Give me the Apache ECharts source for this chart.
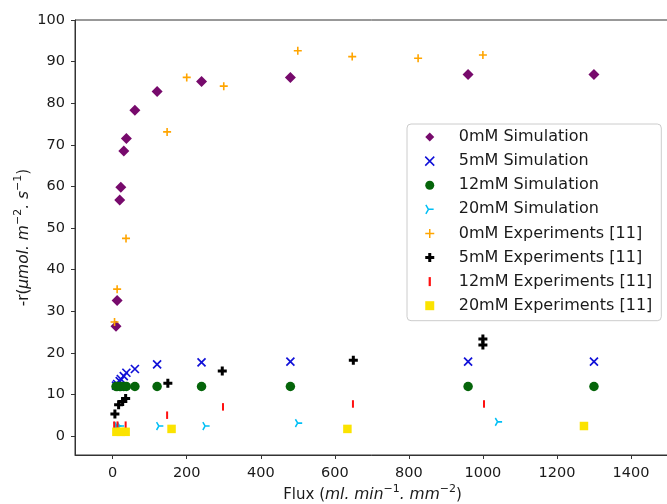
<!DOCTYPE html>
<html><head><meta charset="utf-8">
<script src="https://cdn.jsdelivr.net/npm/echarts@6/dist/echarts.min.js"></script>
<style>html,body{margin:0;padding:0;background:#fff}#c{width:667px;height:504px}</style>
</head><body><div id="c"></div>
<script>
// ---- tick labels ----
const xTicks = [0, 200, 400, 600, 800, 1000, 1200, 1400];
const yTicks = [0, 10, 20, 30, 40, 50, 60, 70, 80, 90, 100];

// ---- simulations ----
const simFlux = [9, 12, 19, 22, 30, 37, 60, 120, 240, 480, 960, 1300];
const sim0mM  = [26.4, 32.6, 56.7, 59.8, 68.5, 71.5, 78.3, 82.8, 85.2, 86.2, 86.9, 86.9];
const sim5mM  = [12.1, 12.5, 13.2, 13.7, 14.4, 15.2, 16.1, 17.2, 17.7, 17.9, 17.9, 17.9];
const sim12mM = [11.9, 11.9, 11.9, 11.9, 11.9, 11.9, 11.9, 11.9, 11.9, 11.9, 11.9, 11.9];
const sim20Flux = [9, 12, 19, 125, 250, 500, 1040];
const sim20mM   = [2.4, 2.4, 2.4, 2.4, 2.4, 3.1, 3.4];

// ---- experiments [11] ----
const exp0Flux = [5, 12, 36, 147, 200, 300, 500, 647, 825, 1000];
const exp0mM   = [27.4, 35.3, 47.5, 73.1, 86.2, 84.1, 92.6, 91.2, 90.8, 91.6];
const exp5Flux = [6, 16, 27, 35, 149, 296, 650, 1000, 1000];
const exp5mM   = [5.3, 7.5, 8.3, 9.0, 12.7, 15.6, 18.2, 21.9, 23.3];
const exp12Flux = [4, 13, 35, 147, 298, 649, 1003];
const exp12mM   = [2.6, 2.6, 2.6, 5.0, 7.0, 7.7, 7.7];
const exp20Flux = [10, 22, 35, 159, 634, 1273];
const exp20mM   = [1.0, 1.0, 1.0, 1.7, 1.7, 2.4];

const names = ['0mM Simulation', '5mM Simulation', '12mM Simulation', '20mM Simulation',
  '0mM Experiments [11]', '5mM Experiments [11]', '12mM Experiments [11]', '20mM Experiments [11]'];

function pts(xs, ys) { return xs.map((x, i) => [x, ys[i]]); }

const FONT = 'DejaVu Sans';
const TXT = '#1a1a1a';
const PATH_X = 'path://M0,0L10,10M10,0L0,10';
const PATH_PLUS = 'path://M5,0L5,10M0,5L10,5';
const PATH_TRI = 'path://M5,8.66L15,8.66M5,8.66L0,0M5,8.66L0,17.32';
const PATH_P = 'path://M2,0L4,0L4,2L6,2L6,4L4,4L4,6L2,6L2,4L0,4L0,2L2,2Z';
const PATH_VL = 'path://M0,0L1,0L1,4L0,4Z';

const series = [
  {name: names[0], data: pts(simFlux, sim0mM), symbol: 'diamond', symbolSize: 11,
   itemStyle: {color: '#770a6c'}},
  {name: names[1], data: pts(simFlux, sim5mM), symbol: PATH_X, symbolSize: 8,
   itemStyle: {color: '#1010d8', borderColor: '#1010d8', borderWidth: 1.7}},
  {name: names[2], data: pts(simFlux, sim12mM), symbol: 'circle', symbolSize: 9.5,
   itemStyle: {color: '#05650a'}},
  {name: names[3], data: pts(sim20Flux, sim20mM), symbol: PATH_TRI, symbolSize: [6.8, 7.8], symbolOffset: [1, 0],
   itemStyle: {color: '#00bff5', borderColor: '#00bff5', borderWidth: 1.6}},
  {name: names[4], data: pts(exp0Flux, exp0mM), symbol: PATH_PLUS, symbolSize: 8,
   itemStyle: {color: '#ffa500', borderColor: '#ffa500', borderWidth: 1.6}},
  {name: names[5], data: pts(exp5Flux, exp5mM), symbol: PATH_P, symbolSize: 9,
   itemStyle: {color: '#000000'}},
  {name: names[6], data: pts(exp12Flux, exp12mM), symbol: PATH_VL, symbolSize: [2, 7.5],
   itemStyle: {color: '#ff1010'}},
  {name: names[7], data: pts(exp20Flux, exp20mM), symbol: 'rect', symbolSize: 8.5,
   itemStyle: {color: '#fbe300'}}
].map(s => {
  s.itemStyle.opacity = 1;
  return Object.assign({type: 'scatter', animation: false, emphasis: {disabled: true}}, s);
});

const legendData = names.map((n, i) => {
  const stroked = [1, 3, 4].indexOf(i) >= 0;
  return stroked ? {name: n, itemStyle: {borderWidth: 1.5}} : {name: n, itemStyle: {borderWidth: 0}};
});

const nameRich = {
  i: {fontStyle: 'italic', fontSize: 15.5, fontFamily: FONT, color: TXT, lineHeight: 22},
  s: {fontStyle: 'normal', fontSize: 11, fontFamily: FONT, color: TXT, lineHeight: 10, verticalAlign: 'top'},
  n: {fontSize: 15, fontFamily: FONT, color: TXT, lineHeight: 22}
};

const chart = echarts.init(document.getElementById('c'), null, {renderer: 'canvas'});
chart.setOption({
  animation: false,
  backgroundColor: '#fff',
  textStyle: {fontFamily: FONT},
  grid: {left: 75, top: 20, width: 595, height: 435, show: true, borderColor: '#333', borderWidth: 1,
         backgroundColor: 'transparent', containLabel: false, outerBoundsMode: 'none'},
  xAxis: {
    type: 'value', min: -101.8, max: 1505.4,
    splitLine: {show: false},
    axisLine: {onZero: false, lineStyle: {color: '#333', width: 1}},
    axisTick: {customValues: xTicks, length: 4, lineStyle: {color: '#333'}},
    axisLabel: {customValues: xTicks, margin: 10.5, color: TXT, fontSize: 14.5, fontFamily: FONT,
                formatter: v => String(v)},
    name: '{n|Flux (}{i|ml. min}{s|−1}{i|. mm}{s|−2}{n|)}', nameLocation: 'middle', nameGap: 29,
    nameMoveOverlap: false,
    nameTextStyle: {color: TXT, fontSize: 15, fontFamily: FONT, lineHeight: 22, rich: nameRich}
  },
  yAxis: {
    type: 'value', min: -4.57, max: 100,
    splitLine: {show: false},
    axisLine: {onZero: false, lineStyle: {color: '#333', width: 1}},
    axisTick: {customValues: yTicks, length: 4, lineStyle: {color: '#333'}},
    axisLabel: {customValues: yTicks, margin: 10, color: TXT, fontSize: 14.5, fontFamily: FONT,
                formatter: v => String(v)},
    name: '{n|-r(}{i|μmol. m}{s|−2}{i|. s}{s|−1}{n|)}', nameLocation: 'middle', nameGap: 40,
    nameMoveOverlap: false,
    nameTextStyle: {color: TXT, fontSize: 15, fontFamily: FONT, lineHeight: 22, rich: nameRich}
  },
  legend: {
    orient: 'vertical', left: 407, top: 124,
    padding: [5, 9, 7, 17.5],
    itemWidth: 9, itemHeight: 9, itemGap: 8.1,
    backgroundColor: 'rgba(255,255,255,0.8)', borderColor: '#cccccc', borderWidth: 1, borderRadius: 4,
    textStyle: {fontSize: 16, fontFamily: FONT, color: TXT, lineHeight: 16, padding: [0, 0, 0, 19.5]},
    data: legendData
  },
  series: series
});
</script>
</body></html>
